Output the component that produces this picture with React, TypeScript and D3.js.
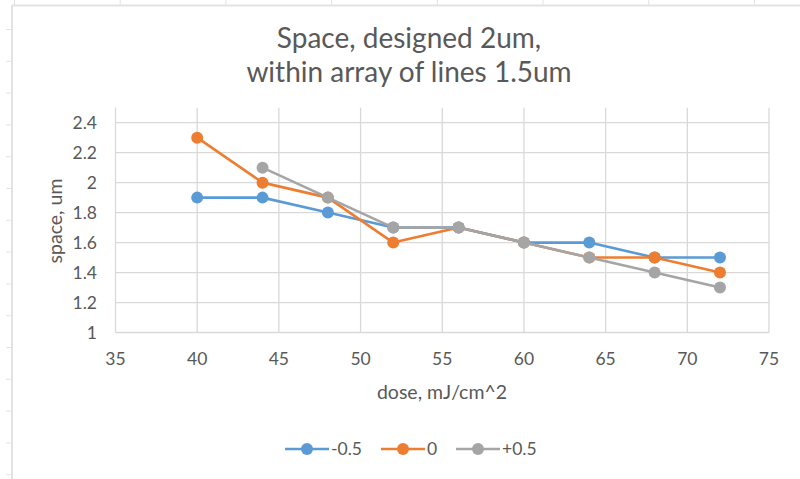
import { useEffect, useRef } from "react";
import * as d3 from "d3";

const doses = [40, 44, 48, 52, 56, 60, 64, 68, 72];
const seriesNames = ["-0.5", "0", "+0.5"];
const seriesColors = ["#5B9BD5", "#ED7D31", "#A5A5A5"];
const minus05 = [1.9, 1.9, 1.8, 1.7, 1.7, 1.6, 1.6, 1.5, 1.5];
const zero = [2.3, 2.0, 1.9, 1.6, 1.7, 1.6, 1.5, 1.5, 1.4];
const plus05 = [null, 2.1, 1.9, 1.7, 1.7, 1.6, 1.5, 1.4, 1.3];
const xTicks = [35, 40, 45, 50, 55, 60, 65, 70, 75];
const yTicks = [1, 1.2, 1.4, 1.6, 1.8, 2, 2.2, 2.4];
const titleLines = ["Space, designed 2um,", "within array of lines 1.5um"];

const W = 800;
const H = 479;
const FONT = "Lato, 'Open Sans', sans-serif";

export default function App() {
  const svgRef = useRef<SVGSVGElement>(null);

  useEffect(() => {
    const svg = d3.select(svgRef.current!);
    svg.selectAll("*").remove();

    svg.append("rect").attr("width", W).attr("height", H).attr("fill", "#fff");

    // spreadsheet frame behind the chart
    const frame = svg.append("g").attr("stroke", "#e3e3e3");
    frame.append("line").attr("x1", 12).attr("x2", W).attr("y1", 5.5).attr("y2", 5.5).attr("stroke-width", 2);
    frame.append("line").attr("x1", 12).attr("x2", 12).attr("y1", 5).attr("y2", H).attr("stroke-width", 2);
    d3.range(8).forEach((i) => {
      const x = 14.5 + i * 105.7;
      frame.append("line").attr("x1", x).attr("x2", x).attr("y1", 0).attr("y2", 5);
    });
    d3.range(15).forEach((i) => {
      const y = 29.5 + i * 31.8;
      frame.append("line").attr("x1", 6).attr("x2", 12).attr("y1", y).attr("y2", y);
    });

    const x = d3.scaleLinear().domain([35, 75]).range([115.5, 769]);
    const y = d3.scaleLinear().domain([1, 2.5]).range([332.5, 107.7]);

    // gridlines
    const grid = svg.append("g").attr("stroke", "#d9d9d9").attr("stroke-width", 1.3);
    grid
      .selectAll("line.h")
      .data(yTicks)
      .join("line")
      .attr("x1", x(35))
      .attr("x2", x(75))
      .attr("y1", (d) => y(d))
      .attr("y2", (d) => y(d));
    grid
      .selectAll("line.v")
      .data(xTicks)
      .join("line")
      .attr("y1", y(1))
      .attr("y2", y(2.5))
      .attr("x1", (d) => x(d))
      .attr("x2", (d) => x(d));

    // tick labels
    svg
      .append("g")
      .selectAll("text")
      .data(yTicks)
      .join("text")
      .attr("x", 97)
      .attr("y", (d) => y(d))
      .attr("dy", "0.35em")
      .attr("text-anchor", "end")
      .attr("font-family", FONT)
      .attr("font-size", 17.5)
      .attr("fill", "#595959")
      .text((d) => d3.format("~g")(d));
    svg
      .append("g")
      .selectAll("text")
      .data(xTicks)
      .join("text")
      .attr("x", (d) => x(d))
      .attr("y", 359)
      .attr("dy", "0.35em")
      .attr("text-anchor", "middle")
      .attr("font-family", FONT)
      .attr("font-size", 17.5)
      .attr("fill", "#595959")
      .text((d) => d);

    // axis titles
    svg
      .append("text")
      .attr("x", 442)
      .attr("y", 392)
      .attr("dy", "0.35em")
      .attr("text-anchor", "middle")
      .attr("font-family", FONT)
      .attr("font-size", 19.5)
      .attr("fill", "#595959")
      .text("dose, mJ/cm^2");
    svg
      .append("text")
      .attr("transform", "translate(55,221) rotate(-90)")
      .attr("dy", "0.35em")
      .attr("text-anchor", "middle")
      .attr("font-family", FONT)
      .attr("font-size", 19.5)
      .attr("fill", "#595959")
      .text("space, um");

    // title
    svg
      .append("g")
      .selectAll("text")
      .data(titleLines)
      .join("text")
      .attr("x", 409)
      .attr("y", (_d, i) => 38 + i * 34)
      .attr("dy", "0.35em")
      .attr("text-anchor", "middle")
      .attr("font-family", FONT)
      .attr("font-size", 28)
      .attr("fill", "#595959")
      .text((d) => d);

    // series
    const allSeries = [minus05, zero, plus05];
    const line = d3
      .line<number | null>()
      .defined((d) => d !== null)
      .x((_d, i) => x(doses[i]))
      .y((d) => y(d as number));

    allSeries.forEach((vals, si) => {
      const g = svg.append("g");
      g.append("path")
        .attr("d", line(vals))
        .attr("fill", "none")
        .attr("stroke", seriesColors[si])
        .attr("stroke-width", 2.6)
        .attr("stroke-linejoin", "round");
      g.selectAll("circle")
        .data(vals.map((v, i) => ({ v, dose: doses[i] })).filter((d) => d.v !== null))
        .join("circle")
        .attr("cx", (d) => x(d.dose))
        .attr("cy", (d) => y(d.v as number))
        .attr("r", 6)
        .attr("fill", seriesColors[si]);
    });

    // legend
    const legendX = [285, 381, 456];
    seriesNames.forEach((name, i) => {
      const g = svg.append("g").attr("transform", `translate(${legendX[i]},449)`);
      g.append("line")
        .attr("x1", 0)
        .attr("x2", 44)
        .attr("stroke", seriesColors[i])
        .attr("stroke-width", 2.6);
      g.append("circle").attr("cx", 22).attr("r", 6).attr("fill", seriesColors[i]);
      g.append("text")
        .attr("x", 46)
        .attr("dy", "0.35em")
        .attr("font-family", FONT)
        .attr("font-size", 17.5)
        .attr("fill", "#595959")
        .text(name);
    });
  }, []);

  return (
    <div style={{ position: "fixed", left: 0, top: 0 }}>
      <svg ref={svgRef} width={W} height={H} style={{ display: "block" }} />
    </div>
  );
}
